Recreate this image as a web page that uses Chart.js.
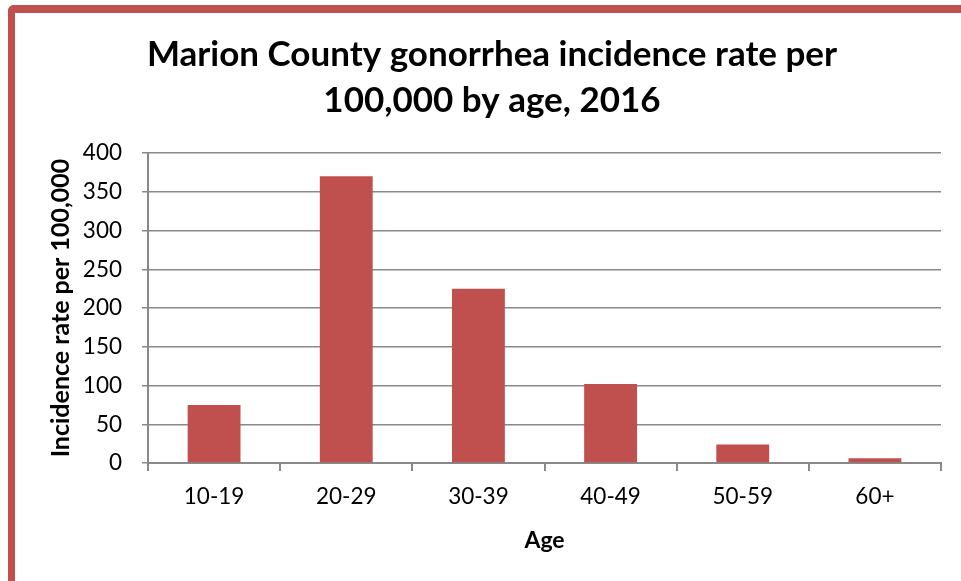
<!DOCTYPE html>
<html>
<head>
<meta charset="utf-8">
<script src="https://cdn.jsdelivr.net/npm/chart.js@4/dist/chart.umd.min.js"></script>
<style>
  html, body { margin: 0; padding: 0; background: #fff; }
  #wrap { position: relative; width: 961px; height: 581px; overflow: hidden; }
  #frame {
    position: absolute; left: 8px; top: 5px; width: 1000px; height: 700px;
    border-left: 7px solid #C0504D; border-top: 8px solid #C0504D;
    border-top-left-radius: 6px; box-sizing: border-box;
  }
  canvas { position: absolute; left: 0; top: 0; }
</style>
</head>
<body>
<div id="wrap">
  <div id="frame"></div>
  <canvas id="c" width="961" height="581"></canvas>
</div>
<script>
// Age groups and incidence rates per 100,000
const ageGroups = ['10-19', '20-29', '30-39', '40-49', '50-59', '60+'];
const incidenceRates = [75, 370, 225, 102, 24, 6];
const yTickStep = 50;
const yMax = 400;
const titleLines = ['Marion County gonorrhea incidence rate per', '100,000 by age, 2016'];

const FONT = "Lato, 'Open Sans', sans-serif";
const GRID = '#898989';

new Chart(document.getElementById('c'), {
  type: 'bar',
  data: {
    labels: ageGroups,
    datasets: [{
      data: incidenceRates,
      backgroundColor: '#C0504D',
      borderWidth: 0,
      barPercentage: 0.4,
      categoryPercentage: 1.0
    }]
  },
  options: {
    responsive: false,
    animation: false,
    layout: { padding: { left: 43, right: 20, top: 32, bottom: 0 } },
    plugins: {
      legend: { display: false },
      tooltip: { enabled: false },
      title: {
        display: true,
        text: titleLines,
        color: '#000',
        font: { family: FONT, size: 35, weight: 'bold', lineHeight: 1.3 },
        padding: { top: 0, bottom: 30 }
      }
    },
    scales: {
      x: {
        offset: true,
        afterFit: (s) => { s.height = 118; },
        grid: {
          display: true, offset: true, drawOnChartArea: false, drawTicks: true,
          tickLength: 8, color: GRID, lineWidth: 2
        },
        border: { display: true, color: GRID, width: 2 },
        ticks: { color: '#000', font: { family: FONT, size: 22.5 }, padding: 12 },
        title: {
          display: true, text: 'Age', color: '#000',
          font: { family: FONT, size: 23, weight: 'bold' }, padding: { top: 4, bottom: 27 }
        }
      },
      y: {
        min: 0, max: yMax,
        afterFit: (s) => { s.width = 105; },
        ticks: { stepSize: yTickStep, color: '#000', font: { family: FONT, size: 22.5 }, padding: 20 },
        grid: { color: GRID, lineWidth: 1.5, drawTicks: true, tickLength: 6 },
        border: { display: true, color: GRID, width: 2 },
        title: {
          display: true, text: 'Incidence rate per 100,000', color: '#000',
          font: { family: FONT, size: 25, weight: 'bold' }, padding: { top: 3, bottom: 4 }
        }
      }
    }
  }
});
</script>
</body>
</html>
